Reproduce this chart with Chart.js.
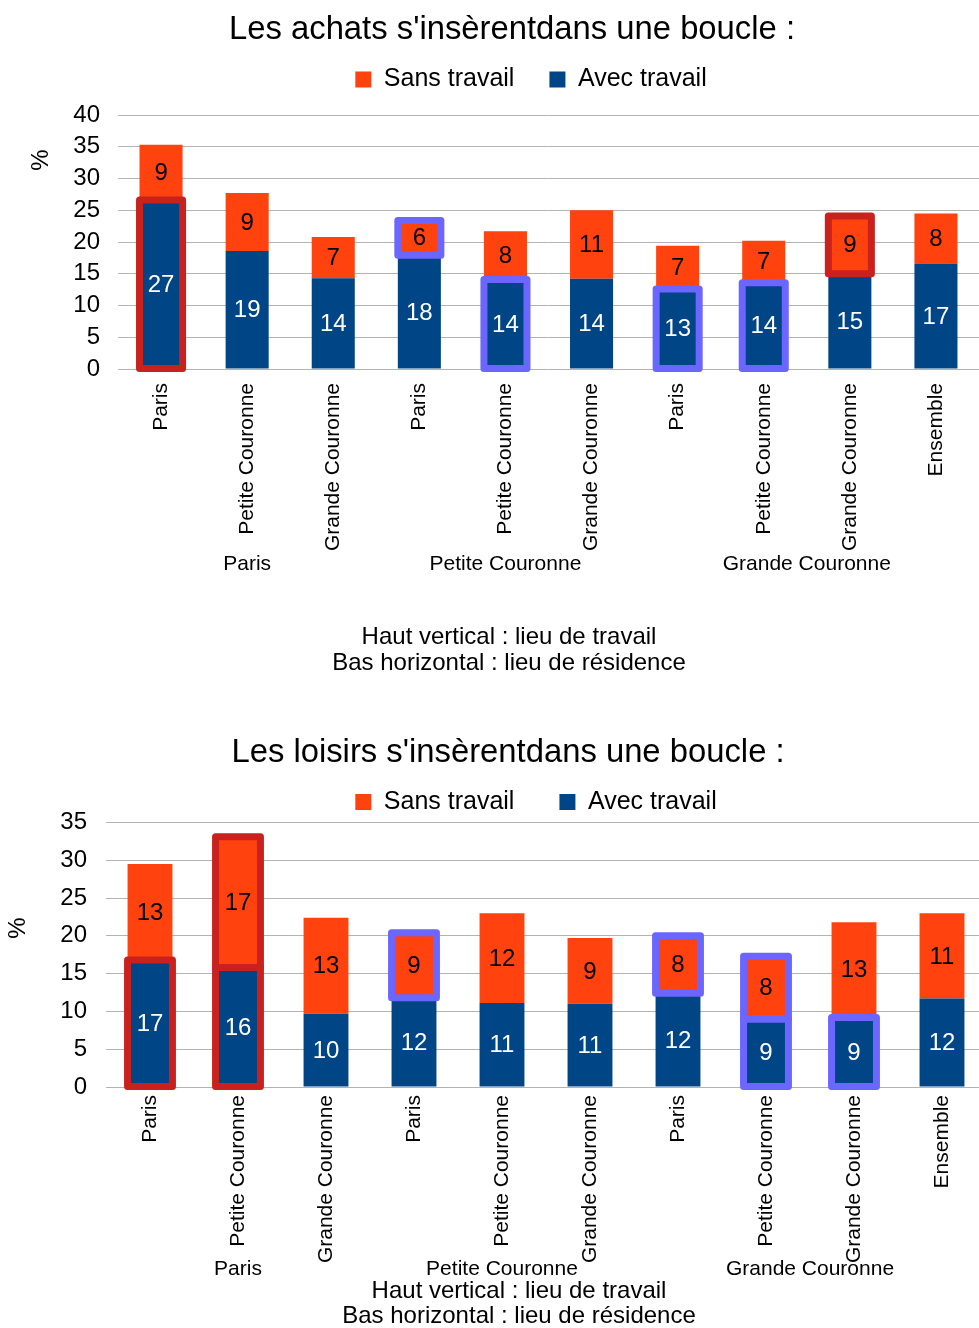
<!DOCTYPE html>
<html lang="fr">
<head>
<meta charset="utf-8">
<title>Les achats et les loisirs dans une boucle</title>
<script src="https://cdn.jsdelivr.net/npm/chart.js@4.4.1/dist/chart.umd.min.js"></script>
<style>
  html, body { margin: 0; padding: 0; background: #fff; overflow: hidden; }
  body { width: 979px; height: 1328px; position: relative; }
  #achats { position: absolute; left: 0; top: 0; }
  #loisirs { position: absolute; left: 0; top: 700px; }
</style>
</head>
<body>
<canvas id="achats" width="979" height="700"></canvas>
<canvas id="loisirs" width="986" height="628"></canvas>
<script>
// Catégories : lieu de travail (haut vertical), regroupées par lieu de résidence (bas horizontal)
const lieuxTravail = ["Paris", "Petite Couronne", "Grande Couronne",
                      "Paris", "Petite Couronne", "Grande Couronne",
                      "Paris", "Petite Couronne", "Grande Couronne", "Ensemble"];
const lieuxResidence = ["Paris", "Petite Couronne", "Grande Couronne"];
const debutGroupe = [0, 3, 6];
const finGroupe = [2, 5, 9];

// Achats (%)
const achatsAvecTravail = [26.6, 18.6, 14.3, 17.9, 14.1, 14.2, 12.6, 13.6, 15.0, 16.6];
const achatsSansTravail = [8.7, 9.1, 6.5, 5.5, 7.6, 10.8, 6.8, 6.6, 9.1, 7.9];
const achatsGraduations = [0, 5, 10, 15, 20, 25, 30, 35, 40];

// Loisirs (%)
const loisirsAvecTravail = [16.8, 15.8, 9.7, 11.8, 11.1, 11.0, 12.4, 9.0, 9.2, 11.7];
const loisirsSansTravail = [12.7, 17.3, 12.7, 8.6, 11.9, 8.7, 7.6, 8.3, 12.6, 11.3];
const loisirsGraduations = [0, 5, 10, 15, 20, 25, 30, 35];

// Segments encadrés : [série, indice, couleur]
const achatsEncadres = [["avec", 0, "rouge"], ["sans", 3, "bleu"], ["avec", 4, "bleu"],
                        ["avec", 6, "bleu"], ["avec", 7, "bleu"], ["sans", 8, "rouge"]];
const loisirsEncadres = [["avec", 0, "rouge"], ["avec", 1, "rouge"], ["sans", 1, "rouge"],
                         ["sans", 3, "bleu"], ["sans", 6, "bleu"], ["avec", 7, "bleu"],
                         ["sans", 7, "bleu"], ["avec", 8, "bleu"]];

const BLEU = '#004586';
const ORANGE = '#ff420e';
const couleursCadre = { rouge: '#c9211e', bleu: '#6b66ff' };
const POLICE = "'Liberation Sans', Arial, sans-serif";

Chart.defaults.font.family = POLICE;
Chart.defaults.color = '#000';

// Textes libres, valeurs dans les barres, encadrés et position de la légende
const habillage = {
    id: 'habillage',
    afterLayout(chart, args, opts) {
        // la légende n'est pas centrée sur la largeur du graphique dans l'original
        const leg = chart.legend;
        leg.left += opts.legendeDx;
        leg.right += opts.legendeDx;
        leg.top += opts.legendeDy;
        leg.bottom += opts.legendeDy;
    },
    afterDatasetsDraw(chart, args, opts) {
        const ctx = chart.ctx;
        ctx.save();
        ctx.lineWidth = 7;
        ctx.lineJoin = 'round';
        opts.encadres.forEach(([serie, i, couleur]) => {
            const el = chart.getDatasetMeta(serie === 'avec' ? 0 : 1).data[i];
            const { x, y, base, width } = el.getProps(['x', 'y', 'base', 'width'], true);
            ctx.strokeStyle = couleursCadre[couleur];
            ctx.strokeRect(x - width / 2, y, width, base - y);
        });
        // valeurs arrondies au centre des segments
        ctx.font = `24px ${POLICE}`;
        ctx.textAlign = 'center';
        ctx.textBaseline = 'middle';
        chart.data.datasets.forEach((ds, d) => {
            chart.getDatasetMeta(d).data.forEach((el, i) => {
                const { x, y, base } = el.getProps(['x', 'y', 'base'], true);
                ctx.fillStyle = d === 0 ? '#fff' : '#000';
                ctx.fillText(Math.round(ds.data[i]), x, (y + base) / 2 + 1);
            });
        });
        ctx.restore();
    },
    afterDraw(chart, args, opts) {
        const ctx = chart.ctx;
        const xs = chart.scales.x;
        ctx.save();
        ctx.fillStyle = '#000';
        ctx.textAlign = 'center';
        ctx.textBaseline = 'middle';

        ctx.font = `32.8px ${POLICE}`;
        ctx.fillText(opts.titre, opts.titreX, opts.titreY);

        ctx.font = `21px ${POLICE}`;
        lieuxResidence.forEach((nom, g) => {
            const x = (xs.getPixelForTick(debutGroupe[g]) + xs.getPixelForTick(finGroupe[g])) / 2;
            ctx.fillText(nom, x, opts.groupesY);
        });

        ctx.font = `24px ${POLICE}`;
        ctx.fillText('Haut vertical : lieu de travail', opts.notesX, opts.notesY[0]);
        ctx.fillText('Bas horizontal : lieu de résidence', opts.notesX, opts.notesY[1]);

        ctx.translate(opts.pctX, opts.pctY);
        ctx.rotate(-Math.PI / 2);
        ctx.fillText('%', 0, 0);
        ctx.restore();
    }
};

function creerGraphique(id, avec, sans, graduations, encadres, reglages) {
    const ctx = document.getElementById(id).getContext('2d');
    return new Chart(ctx, {
        type: 'bar',
        data: {
            labels: lieuxTravail,
            datasets: [
                { label: 'Avec travail', data: avec, backgroundColor: BLEU, borderWidth: 0 },
                { label: 'Sans travail', data: sans, backgroundColor: ORANGE, borderWidth: 0 }
            ]
        },
        options: {
            responsive: false,
            animation: false,
            events: [],
            layout: { padding: reglages.marges },
            datasets: {
                bar: { categoryPercentage: 1, barPercentage: reglages.largeurBarre }
            },
            scales: {
                x: {
                    stacked: true,
                    grid: { display: false },
                    border: { display: false },
                    ticks: {
                        font: { size: 21 },
                        minRotation: 90,
                        maxRotation: 90,
                        autoSkip: false,
                        padding: reglages.ecartEtiquettes
                    },
                    afterFit: s => { s.height = 200; s.paddingLeft = 0; s.paddingRight = 0; }
                },
                y: {
                    stacked: true,
                    min: 0,
                    max: graduations[graduations.length - 1],
                    afterBuildTicks: s => { s.ticks = graduations.map(v => ({ value: v })); },
                    grid: { color: '#b3b3b3', lineWidth: 1, drawTicks: false },
                    border: { display: false },
                    ticks: { font: { size: 24 }, padding: reglages.ecartGraduations, autoSkip: false },
                    afterFit: s => { s.width = reglages.largeurAxe; }
                }
            },
            plugins: {
                title: { display: false },
                tooltip: { enabled: false },
                legend: {
                    position: 'top',
                    reverse: true,
                    labels: {
                        font: { size: 25 },
                        boxWidth: 16,
                        boxHeight: 16,
                        padding: reglages.ecartLegende
                    }
                },
                habillage: Object.assign({ encadres }, reglages.textes)
            }
        },
        plugins: [habillage]
    });
}

creerGraphique('achats', achatsAvecTravail, achatsSansTravail, achatsGraduations, achatsEncadres, {
    marges: { top: 45, left: 0, right: 0, bottom: 131 },
    largeurBarre: 0.5,
    largeurAxe: 118,
    ecartGraduations: 18,
    ecartEtiquettes: 6,
    ecartLegende: 35,
    textes: {
        titre: "Les achats s'insèrentdans une boucle :", titreX: 512, titreY: 30,
        pctX: 41, pctY: 160, groupesY: 564, notesX: 509, notesY: [637, 663],
        legendeDx: 41.5, legendeDy: -13
    }
});

creerGraphique('loisirs', loisirsAvecTravail, loisirsSansTravail, loisirsGraduations, loisirsEncadres, {
    marges: { top: 42.5, left: 0, right: 0, bottom: 41 },
    largeurBarre: 0.51,
    largeurAxe: 106,
    ecartGraduations: 19,
    ecartEtiquettes: 0,
    ecartLegende: 45,
    textes: {
        titre: "Les loisirs s'insèrentdans une boucle :", titreX: 508, titreY: 53,
        pctX: 18, pctY: 228, groupesY: 569, notesX: 519, notesY: [591, 616],
        legendeDx: 43, legendeDy: 2
    }
});
</script>
</body>
</html>
